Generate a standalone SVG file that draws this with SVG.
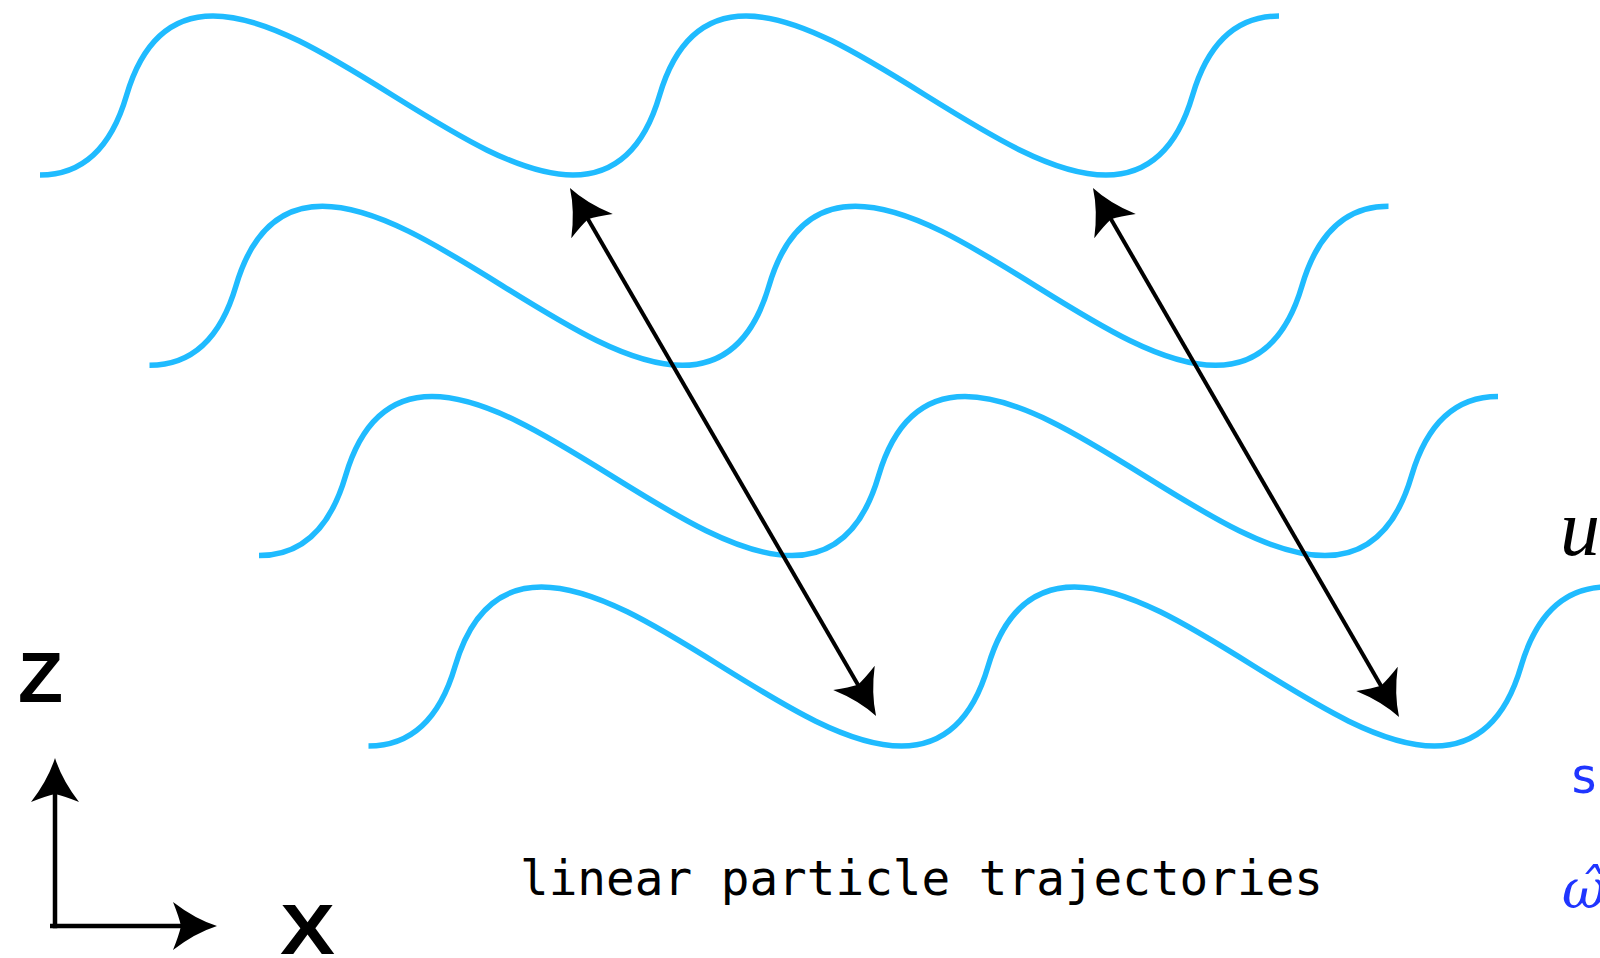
<svg xmlns="http://www.w3.org/2000/svg" xmlns:xlink="http://www.w3.org/1999/xlink" width="1600" height="958" viewBox="0 0 1600 958">
<style>
.wave{fill:none;stroke:#1fbbff;stroke-width:5.5;stroke-linecap:butt}
.arr{fill:none;stroke:#000;stroke-width:4}
.ax{fill:none;stroke:#000;stroke-width:4.5}
.lab{font-family:"Liberation Sans",Arial,sans-serif;font-weight:bold;fill:#000}
.mono{font-family:"DejaVu Sans Mono","Liberation Mono",monospace}
.math{font-family:"Liberation Serif","DejaVu Serif",serif;font-style:italic}
.math2{font-family:"DejaVu Serif",serif;font-style:italic}
</style>
<defs>
<marker id="head" markerUnits="userSpaceOnUse" markerWidth="80" markerHeight="80" refX="0" refY="0" orient="auto-start-reverse" overflow="visible">
<path d="M30,0 Q8,7 -14,24 Q-8,9 -6,0 Q-8,-9 -14,-24 Q8,-7 30,0 Z" fill="#000"/>
</marker>
<path id="wv" class="wave" d="M40,175 c45,0 72,-30 86.5,-79.5 c14.5,-49.5 41.5,-79.5 86.5,-79.5 c105,0 255,159 360,159 c45,0 72,-30 86.5,-79.5 c14.5,-49.5 41.5,-79.5 86.5,-79.5 c105,0 255,159 360,159 c45,0 72,-30 86.5,-79.5 c14.5,-49.5 41.5,-79.5 86.5,-79.5"/>
</defs>
<rect width="1600" height="958" fill="#fff"/>
<g id="waves">
<use id="wave1" xlink:href="#wv" href="#wv"/>
<use id="wave2" xlink:href="#wv" href="#wv" transform="translate(109.5,190.3)"/>
<use id="wave3" xlink:href="#wv" href="#wv" transform="translate(219,380.6)"/>
<use id="wave4" xlink:href="#wv" href="#wv" transform="translate(328.5,571)"/>
</g>
<g id="connectors">
<line class="arr" x1="585" y1="214" x2="861" y2="690" marker-start="url(#head)" marker-end="url(#head)"/>
<line class="arr" x1="1108" y1="214" x2="1384" y2="691" marker-start="url(#head)" marker-end="url(#head)"/>
</g>
<g id="axes">
<line class="ax" x1="55" y1="928.2" x2="55" y2="788" marker-end="url(#head)"/>
<line class="ax" x1="50" y1="926" x2="187" y2="926" marker-end="url(#head)"/>
<text class="lab" x="18" y="702" font-size="70" textLength="45" lengthAdjust="spacingAndGlyphs">Z</text>
<text class="lab" x="280" y="954" font-size="71" textLength="55" lengthAdjust="spacingAndGlyphs">X</text>
</g>
<g id="caption">
<text class="mono" x="520" y="895" font-size="48" textLength="803" lengthAdjust="spacingAndGlyphs" fill="#000">linear particle trajectories</text>
</g>
<g id="right-labels">
<text class="math" x="1560" y="555" font-size="80" fill="#000">u</text>
<text class="mono" x="1569" y="793" font-size="50" fill="#1f35ff">s</text>
<text class="math2" x="1562" y="908" font-size="54" fill="#1f35ff">ω̂</text>
</g>
</svg>
